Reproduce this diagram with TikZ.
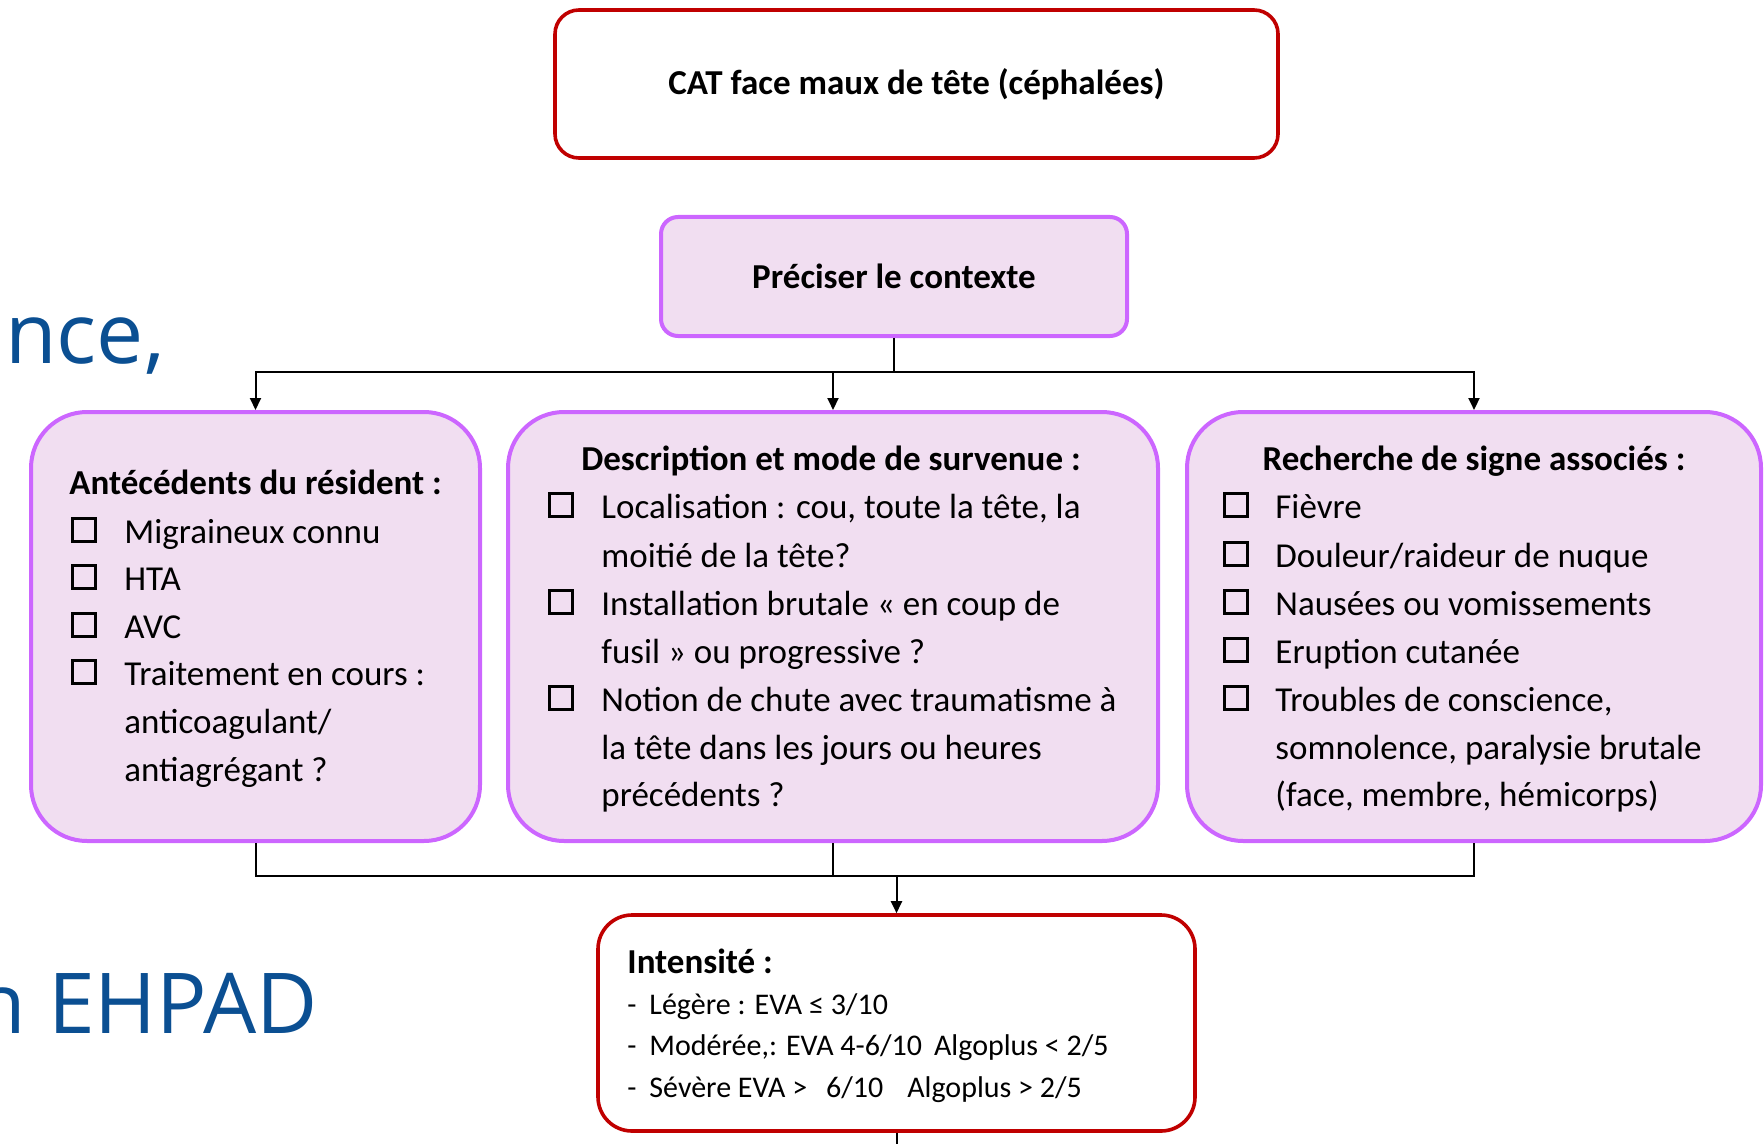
\documentclass[tikz,border=0pt]{standalone}
\usepackage{fontspec}
\setmainfont{Carlito}
\newfontfamily\bgfont{Open Sans}
\usetikzlibrary{arrows.meta}
\definecolor{violetb}{HTML}{CC66FF}
\definecolor{pinkf}{HTML}{F1DEF1}
\definecolor{redb}{HTML}{C00000}
\definecolor{blueb}{HTML}{0B4F92}
\tikzset{
  redbox/.style={draw=redb, line width=1.8pt, fill=white, inner sep=0pt},
  pinkbox/.style={draw=violetb, line width=2pt, fill=pinkf, inner sep=0pt},
  conn/.style={line width=1pt, draw=black},
  arr/.style={conn, -{Triangle[width=5.5pt,length=6pt]}},
  cbox/.style={draw=black, line width=1.3pt, minimum size=11.5pt, inner sep=0pt, anchor=south west},
  txt/.style={anchor=base west, inner sep=0pt, font=\fontsize{17.5}{21}\selectfont},
  ttl/.style={anchor=base west, inner sep=0pt, font=\bfseries\fontsize{17.5}{21}\selectfont},
  stxt/.style={anchor=base west, inner sep=0pt, font=\fontsize{15}{18}\selectfont},
  bgtxt/.style={inner sep=0pt, text=blueb, font=\bgfont\fontsize{42}{50}\selectfont}
}
\begin{document}
\begin{tikzpicture}[x=0.5pt,y=-0.5pt]
\useasboundingbox (0,0) rectangle (1764,1144);
\clip (0,0) rectangle (1764,1144);

% background slide text
\node[bgtxt, anchor=base west] (bg1) at (5,363) {nce,};
\node[bgtxt, anchor=base east] (bg2) at (318,1033) {n EHPAD};

% boxes
\node[redbox, rounded corners=12pt, minimum width=361.5pt, minimum height=74pt,
      font=\bfseries\fontsize{17.5}{21}\selectfont] (top) at (916.5,84) {CAT face maux de tête (céphalées)};
\node[pinkbox, rounded corners=8.5pt, minimum width=233pt, minimum height=59.5pt,
      font=\bfseries\fontsize{17.5}{21}\selectfont] (ctx) at (894,276.5) {Préciser le contexte};
\node[pinkbox, rounded corners=28pt, minimum width=224.5pt, minimum height=214.5pt] (left) at (255.5,626.5) {};
\node[pinkbox, rounded corners=28pt, minimum width=325pt, minimum height=214.5pt] (mid) at (833,626.5) {};
\node[pinkbox, rounded corners=28pt, minimum width=287pt, minimum height=214.5pt] (right) at (1474,626.5) {};
\node[redbox, rounded corners=17pt, minimum width=298.5pt, minimum height=108pt] (int) at (896.5,1023) {};

% connectors
\coordinate (bus1) at (894,372);
\coordinate (bus2) at (894,876);
\coordinate (bot) at (896.5,1144);
\draw[conn] (ctx.south) -- (ctx.south |- bus1);
\draw[arr] (ctx.south |- bus1) -| (left.north);
\draw[arr] (ctx.south |- bus1) -| (right.north);
\draw[arr] (mid.north |- bus1) -- (mid.north);
\draw[conn] (left.south) |- (right.south |- bus2) -- (right.south);
\draw[conn] (mid.south) -- (mid.south |- bus2);
\draw[arr] (int.north |- bus2) -- (int.north);
\draw[conn] (int.south) -- (bot);

% left box text
\node[ttl] (lt) at (69,494) {Antécédents du résident :};
\node[cbox] (lc1) at (71,543) {};
\node[cbox] (lc2) at (71,590) {};
\node[cbox] (lc3) at (71,638) {};
\node[cbox] (lc4) at (71,685) {};
\node[txt] (l1) at (124,543) {Migraineux connu};
\node[txt] (l2) at (124,590) {HTA};
\node[txt] (l3) at (124,638) {AVC};
\node[txt] (l4) at (124,685) {Traitement en cours :};
\node[txt] (l5) at (124,733) {anticoagulant/};
\node[txt] (l6) at (124,781) {antiagrégant ?};

% middle box text
\node[ttl, anchor=base] (mt) at (831,470) {Description et mode de survenue :};
\node[cbox] (mc1) at (548,518) {};
\node[cbox] (mc2) at (548,615) {};
\node[cbox] (mc3) at (548,711) {};
\node[txt] (m1) at (601,518) {Localisation : cou, toute la tête, la};
\node[txt] (m2) at (601,567) {moitié de la tête?};
\node[txt] (m3) at (601,615) {Installation brutale « en coup de};
\node[txt] (m4) at (601,663) {fusil » ou progressive ?};
\node[txt] (m5) at (601,711) {Notion de chute avec traumatisme à};
\node[txt] (m6) at (601,759) {la tête dans les jours ou heures};
\node[txt] (m7) at (601,806) {précédents ?};

% right box text
\node[ttl, anchor=base] (rt) at (1474,470) {Recherche de signe associés :};
\node[cbox] (rc1) at (1223,518) {};
\node[cbox] (rc2) at (1223,567) {};
\node[cbox] (rc3) at (1223,615) {};
\node[cbox] (rc4) at (1223,663) {};
\node[cbox] (rc5) at (1223,711) {};
\node[txt] (r1) at (1275,518) {Fièvre};
\node[txt] (r2) at (1275,567) {Douleur/raideur de nuque};
\node[txt] (r3) at (1275,615) {Nausées ou vomissements};
\node[txt] (r4) at (1275,663) {Eruption cutanée};
\node[txt] (r5) at (1275,711) {Troubles de conscience,};
\node[txt] (r6) at (1275,759) {somnolence, paralysie brutale};
\node[txt] (r7) at (1275,806) {(face, membre, hémicorps)};

% intensity box text
\node[ttl] (it) at (627,973) {Intensité :};
\node[stxt] (id1) at (627,1014) {-};
\node[stxt] (id2) at (627,1055) {-};
\node[stxt] (id3) at (627,1097) {-};
\node[stxt] (i1) at (649,1014) {Légère : EVA ≤ 3/10};
\node[stxt] (i2) at (649,1055) {Modérée,: EVA 4-6/10\hspace{0.4em}Algoplus < 2/5};
\node[stxt] (i3) at (649,1097) {Sévère EVA >\hspace{0.4em} 6/10\hspace{0.8em}Algoplus > 2/5};
\end{tikzpicture}
\end{document}
